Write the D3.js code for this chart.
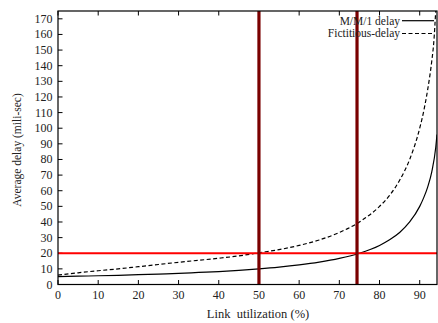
<!DOCTYPE html>
<html><head><meta charset="utf-8">
<script src="https://cdn.jsdelivr.net/npm/d3@7"></script>
<style>html,body{margin:0;padding:0;background:#fff;}svg{display:block;}</style>
</head><body>
<svg id="c" width="438" height="323"></svg>
<script>
const utilization = [0,5,10,15,20,25,30,35,40,45,50,55,60,65,70,75,80,82.5,85,87.5,90,91,92,93,94,94.3];
const mm1Delay =    [5,5.3,5.6,5.9,6.3,6.7,7.1,7.7,8.3,9.1,10,11.1,12.5,14.3,16.7,20,25,28.6,33.3,40,50,55.6,62.5,72,88,96];
const fictUtil =    [0,5,10,15,20,25,30,35,40,45,50,55,60,65,70,75,80,82.5,85,87.5,90,91,92,93,93.5,94];
const fictDelay =   [6,7.5,8.8,10,11.4,12.8,14.2,15.5,16.8,18.3,20.3,22.3,25,28.5,33.3,40,50,57,66.7,80,100,111,125,143,155,176];
const xTicks = [0,10,20,30,40,50,60,70,80,90];
const yTicks = [0,10,20,30,40,50,60,70,80,90,100,110,120,130,140,150,160,170];
const thresholdDelay = 20;
const markerUtil = [50, 74.4];
const seriesNames = ["M/M/1 delay", "Fictitious-delay"];

const svg = d3.select("#c");
const L = 58, R = 437, T = 11, B = 284.5;
const x = d3.scaleLinear().domain([0, 94.3]).range([L, R]);
const y = d3.scaleLinear().domain([0, 175]).range([B, T]);
const font = "Liberation Serif, Times New Roman, serif";

svg.append("defs").append("clipPath").attr("id","clip")
  .append("rect").attr("x",L).attr("y",T).attr("width",R-L).attr("height",B-T);

// ticks (inward) bottom/top/left
const tickG = svg.append("g").attr("stroke","#000").attr("stroke-width",1);
xTicks.forEach(t => {
  tickG.append("line").attr("x1",x(t)).attr("x2",x(t)).attr("y1",B).attr("y2",B-4.5);
  tickG.append("line").attr("x1",x(t)).attr("x2",x(t)).attr("y1",T).attr("y2",T+4.5);
});
yTicks.forEach(t => {
  tickG.append("line").attr("x1",L).attr("x2",L+4.5).attr("y1",y(t)).attr("y2",y(t));
});

// tick labels
svg.append("g").selectAll("text").data(xTicks).join("text")
  .attr("x", d => x(d)).attr("y", 298.5).attr("text-anchor","middle")
  .attr("font-family",font).attr("font-size",12).attr("fill","#222").text(d => d);
svg.append("g").selectAll("text").data(yTicks).join("text")
  .attr("x", 52.5).attr("y", d => y(d) + 4).attr("text-anchor","end")
  .attr("font-family",font).attr("font-size",12).attr("fill","#222").text(d => d);

// axis titles
svg.append("text").attr("x", 258).attr("y", 318).attr("text-anchor","middle")
  .attr("font-family",font).attr("font-size",12.5).attr("fill","#222")
  .attr("xml:space","preserve").text("Link  utilization (%)");
svg.append("text").attr("transform","translate(21,150) rotate(-90)").attr("text-anchor","middle")
  .attr("font-family",font).attr("font-size",11.5).attr("fill","#222").text("Average delay (mili-sec)");

// curves
const plot = svg.append("g").attr("clip-path","url(#clip)");
const line = d3.line().x(d => x(d[0])).y(d => y(d[1])).curve(d3.curveMonotoneX);
plot.append("path").datum(utilization.map((u,i)=>[u,mm1Delay[i]]))
  .attr("d", line).attr("fill","none").attr("stroke","#000").attr("stroke-width",1.2);
plot.append("path").datum(fictUtil.map((u,i)=>[u,fictDelay[i]]))
  .attr("d", line).attr("fill","none").attr("stroke","#000").attr("stroke-width",1.2)
  .attr("stroke-dasharray","4,2.5");

// threshold and markers
plot.append("line").attr("x1",L).attr("x2",R).attr("y1",y(thresholdDelay)).attr("y2",y(thresholdDelay))
  .attr("stroke","#ff0000").attr("stroke-width",2.2);
markerUtil.forEach(m => {
  plot.append("line").attr("x1",x(m)).attr("x2",x(m)).attr("y1",T).attr("y2",B)
    .attr("stroke","#7a0000").attr("stroke-width",3.2);
});

// legend
const leg = svg.append("g");
seriesNames.forEach((n,i) => {
  const ly = 20.7 + i*12.8;
  leg.append("text").attr("x", 400).attr("y", ly + 3.8).attr("text-anchor","end")
    .attr("font-family",font).attr("font-size",11.5).attr("fill","#222").text(n);
  leg.append("line").attr("x1",402).attr("x2",434).attr("y1",ly).attr("y2",ly)
    .attr("stroke","#000").attr("stroke-width",1.2).attr("stroke-dasharray", i ? "4,2.5" : null);
});

// border
svg.append("rect").attr("x",L).attr("y",T).attr("width",R-L).attr("height",B-T)
  .attr("fill","none").attr("stroke","#000").attr("stroke-width",1.2);
</script>
</body></html>
